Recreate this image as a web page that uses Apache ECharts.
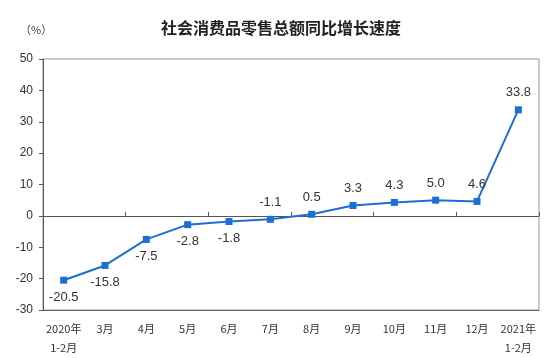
<!DOCTYPE html>
<html><head><meta charset="utf-8">
<script src="https://cdn.jsdelivr.net/npm/echarts@6/dist/echarts.min.js"></script>
<style>html,body{margin:0;padding:0;background:#fff}#c{width:553px;height:358px}</style>
</head><body><div id="c"></div>
<script>
const categories = ['2020年\n1-2月','3月','4月','5月','6月','7月','8月','9月','10月','11月','12月','2021年\n1-2月'];
const growth = [-20.5, -15.8, -7.5, -2.8, -1.8, -1.1, 0.5, 3.3, 4.3, 5.0, 4.6, 33.8];
const yTicks = {min: -30, max: 50, step: 10};
const labelBelow = [true, true, true, true, true, false, false, false, false, false, false, false];

const chart = echarts.init(document.getElementById('c'), null, {renderer: 'canvas'});
const fontLatin = 'Liberation Sans, Arial, sans-serif';
const fontCJK = '"Noto Sans CJK SC", sans-serif';
chart.setOption({
  animation: false,
  title: {
    text: '社会消费品零售总额同比增长速度',
    left: 156, top: 15,
    textStyle: {fontFamily: fontCJK, fontSize: 16, fontWeight: 'bold', color: '#222'}
  },
  graphic: [{
    type: 'text', left: 20, top: 24,
    style: {text: '（%）', font: '11px "Noto Sans CJK SC", sans-serif', fill: '#444'}
  }],
  grid: {left: 43, right: 14, top: 59, bottom: 48, show: true, borderColor: '#999', borderWidth: 1, backgroundColor: 'transparent'},
  xAxis: [{
    type: 'category', data: categories, boundaryGap: true,
    axisLine: {onZero: true, lineStyle: {color: '#555', width: 1}},
    axisTick: {show: true, inside: true, length: 4, lineStyle: {color: '#555'}},
    axisLabel: {show: false},
    splitLine: {show: false}
  }, {
    type: 'category', data: categories, boundaryGap: true, position: 'bottom',
    axisLine: {show: true, onZero: false, lineStyle: {color: '#666'}},
    axisTick: {show: false},
    axisLabel: {show: true, interval: 0, color: '#333', fontSize: 11, fontFamily: fontCJK, lineHeight: 19, margin: 9},
    splitLine: {show: false}
  }],
  yAxis: {
    type: 'value', min: yTicks.min, max: yTicks.max, interval: yTicks.step,
    axisLine: {show: true, lineStyle: {color: '#555'}},
    axisTick: {show: true, length: 4, lineStyle: {color: '#555'}},
    axisLabel: {color: '#333', fontSize: 12, fontFamily: fontLatin, margin: 10},
    splitLine: {show: false}
  },
  series: [{
    type: 'line', xAxisIndex: 0,
    data: growth.map((v, i) => ({
      value: v,
      label: {position: labelBelow[i] ? 'bottom' : 'top', distance: 7}
    })),
    symbol: 'rect', symbolSize: 7,
    lineStyle: {color: '#1b6fd1', width: 2},
    itemStyle: {color: '#1b6fd1'},
    label: {show: true, color: '#333', fontSize: 13, fontFamily: fontLatin,
      formatter: p => p.value.toFixed(1)}
  }]
});
</script></body></html>
